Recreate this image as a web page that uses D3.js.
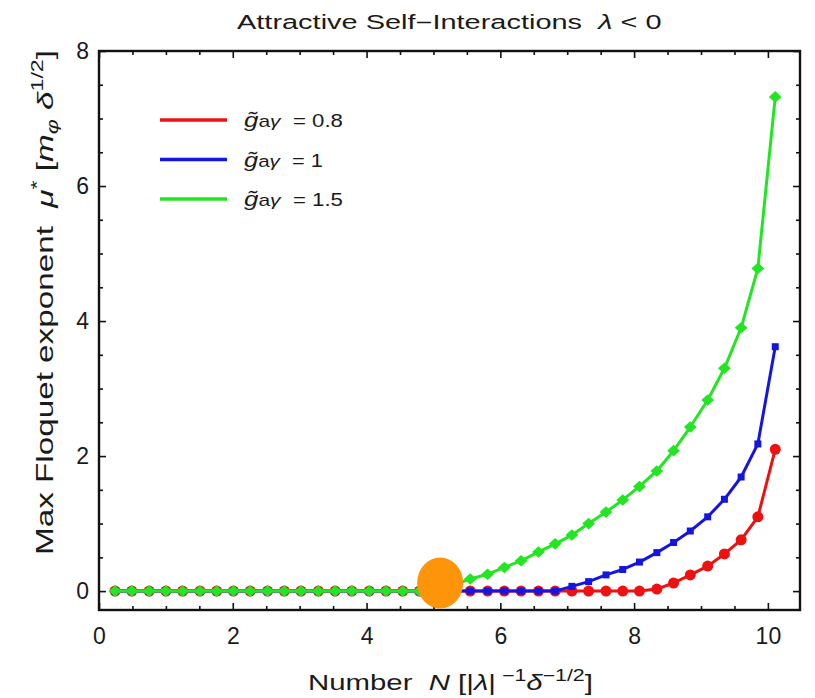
<!DOCTYPE html>
<html>
<head>
<meta charset="utf-8">
<script src="https://cdn.jsdelivr.net/npm/d3@7"></script>
<style>
  html, body { margin: 0; padding: 0; background: #fff; }
  svg text { font-family: "Liberation Sans", Arial, sans-serif; fill: #1a1a1a; white-space: pre; }
</style>
</head>
<body>
<svg id="chart" width="815" height="698"></svg>
<script>
// Particle number N (units of |λ|^-1 δ^-1/2) at which the exponent was computed
const numberN = [0.24, 0.49, 0.75, 1.00, 1.25, 1.51, 1.76, 2.01, 2.26, 2.52,
                 2.77, 3.02, 3.28, 3.53, 3.78, 4.04, 4.29, 4.54, 4.79, 5.05,
                 5.30, 5.55, 5.81, 6.06, 6.31, 6.57, 6.82, 7.07, 7.32, 7.58,
                 7.83, 8.08, 8.34, 8.59, 8.84, 9.10, 9.35, 9.60, 9.85, 10.11];

// Max Floquet exponent μ* for each coupling
const muG08 = [0, 0, 0, 0, 0, 0, 0, 0, 0, 0,
               0, 0, 0, 0, 0, 0, 0, 0, 0, 0,
               0, 0, 0, 0, 0, 0, 0, 0, 0, 0,
               0, 0, 0.03, 0.12, 0.24, 0.37, 0.55, 0.76, 1.10, 2.10];
const muG10 = [0, 0, 0, 0, 0, 0, 0, 0, 0, 0,
               0, 0, 0, 0, 0, 0, 0, 0, 0, 0,
               0, 0, 0, 0, 0, 0, 0, 0.07, 0.14, 0.24,
               0.32, 0.43, 0.57, 0.72, 0.89, 1.10, 1.36, 1.69, 2.18, 3.62];
const muG15 = [0, 0, 0, 0, 0, 0, 0, 0, 0, 0,
               0, 0, 0, 0, 0, 0, 0, 0, 0, 0.03,
               0.09, 0.18, 0.25, 0.35, 0.45, 0.58, 0.70, 0.83, 1.00, 1.17,
               1.35, 1.55, 1.78, 2.08, 2.43, 2.83, 3.30, 3.90, 4.78, 7.32];

const couplingLabels = ["0.8", "1", "1.5"];
const seriesColors = ["#ee1111", "#1515e0", "#22e622"];
const seriesMarkers = ["circle", "square", "diamond"];

// Point where the instability sets in for the strongest coupling
const onsetN = 5.10, onsetMu = 0.12;

const xTickValues = [0, 2, 4, 6, 8, 10];
const yTickValues = [0, 2, 4, 6, 8];

const series = [muG08, muG10, muG15].map((vals, i) => ({
  label: couplingLabels[i],
  color: seriesColors[i],
  marker: seriesMarkers[i],
  points: numberN.map((n, j) => ({ n, mu: vals[j] }))
}));

const svg = d3.select("#chart");
const plotLeft = 99, plotRight = 800, plotTop = 51, plotBottom = 610;

const x = d3.scaleLinear().domain([0, 10.48]).range([plotLeft, plotRight]);
const y = d3.scaleLinear().domain([-0.28, 8]).range([plotBottom, plotTop]);

// Minor ticks every 0.5
const xMinor = d3.range(0.5, 10.5, 0.5).filter(v => v % 2 !== 0);
const yMinor = d3.range(0.5, 8, 0.5).filter(v => v % 2 !== 0);

function styleAxis(g) {
  g.select(".domain").remove();
  g.selectAll(".tick line").attr("stroke", "#111").attr("stroke-width", 1.6);
}
function styleLabels(g) {
  g.selectAll("text").attr("font-size", 23).attr("fill", "#1a1a1a")
    .attr("font-family", "Liberation Sans, Arial, sans-serif");
}

// Bottom axis with labels
svg.append("g").attr("transform", `translate(0,${plotBottom})`)
  .call(d3.axisBottom(x).tickValues(xTickValues).tickSize(-7).tickPadding(18).tickFormat(d3.format("d")))
  .call(styleAxis).call(styleLabels);
svg.append("g").attr("transform", `translate(0,${plotBottom})`)
  .call(d3.axisBottom(x).tickValues(xMinor).tickSize(-4).tickFormat(""))
  .call(styleAxis);

// Top axis (ticks only)
svg.append("g").attr("transform", `translate(0,${plotTop})`)
  .call(d3.axisTop(x).tickValues(xTickValues).tickSize(-7).tickFormat(""))
  .call(styleAxis);
svg.append("g").attr("transform", `translate(0,${plotTop})`)
  .call(d3.axisTop(x).tickValues(xMinor).tickSize(-4).tickFormat(""))
  .call(styleAxis);

// Left axis with labels
svg.append("g").attr("transform", `translate(${plotLeft},0)`)
  .call(d3.axisLeft(y).tickValues(yTickValues).tickSize(-7).tickPadding(10).tickFormat(d3.format("d")))
  .call(styleAxis).call(styleLabels);
svg.append("g").attr("transform", `translate(${plotLeft},0)`)
  .call(d3.axisLeft(y).tickValues(yMinor).tickSize(-4).tickFormat(""))
  .call(styleAxis);

// Right axis (ticks only)
svg.append("g").attr("transform", `translate(${plotRight},0)`)
  .call(d3.axisRight(y).tickValues(yTickValues).tickSize(-7).tickFormat(""))
  .call(styleAxis);
svg.append("g").attr("transform", `translate(${plotRight},0)`)
  .call(d3.axisRight(y).tickValues(yMinor).tickSize(-4).tickFormat(""))
  .call(styleAxis);

// Frame
svg.append("rect")
  .attr("x", plotLeft).attr("y", plotTop)
  .attr("width", plotRight - plotLeft).attr("height", plotBottom - plotTop)
  .attr("fill", "none").attr("stroke", "#111").attr("stroke-width", 2.4);

// Curves
const line = d3.line().x(d => x(d.n)).y(d => y(d.mu));
const plot = svg.append("g");

function drawMarker(g, kind, color) {
  if (kind === "circle") {
    g.append("circle").attr("r", 5.5).attr("fill", color);
  } else if (kind === "square") {
    g.append("rect").attr("x", -3.5).attr("y", -3.5).attr("width", 7).attr("height", 7).attr("fill", color);
  } else {
    g.append("path").attr("d", "M0,-5.8L6.4,0L0,5.8L-6.4,0Z").attr("fill", color);
  }
}

series.forEach(s => {
  const g = plot.append("g");
  g.append("path").datum(s.points)
    .attr("d", line).attr("fill", "none")
    .attr("stroke", s.color).attr("stroke-width", 3).attr("stroke-linejoin", "round");
  g.selectAll("g.pt").data(s.points).join("g")
    .attr("class", "pt")
    .attr("transform", d => `translate(${x(d.n)},${y(d.mu)})`)
    .each(function () { drawMarker(d3.select(this), s.marker, s.color); });
});

// Onset highlight
plot.append("ellipse")
  .attr("cx", x(onsetN)).attr("cy", y(onsetMu))
  .attr("rx", 23).attr("ry", 25.5)
  .attr("fill", "#fd9409");

// Text blocks drawn in a wide face: the block is stretched along its
// writing direction so that it spans the given length.
function wideText(px, py, angle, span, fontSize, build) {
  const g = svg.append("g");
  const t = g.append("text").attr("x", 0).attr("y", 0).attr("font-size", fontSize);
  build(t);
  const w = t.node().getBBox().width;
  const sx = span / w;
  g.attr("transform", `translate(${px},${py}) rotate(${angle}) scale(${sx},1)`);
  return sx;
}

// Legend
series.forEach((s, i) => {
  const ly = 120 + i * 39.5;
  svg.append("line")
    .attr("x1", 160).attr("x2", 227).attr("y1", ly).attr("y2", ly)
    .attr("stroke", s.color).attr("stroke-width", 3.5);
  const span = [99, 79, 99][i];
  wideText(244, ly + 7, 0, span, 18, t => {
    t.append("tspan").attr("font-style", "italic").attr("font-size", 21).text("g\u0303");
    t.append("tspan").attr("font-size", 17).text("a");
    t.append("tspan").attr("font-style", "italic").attr("font-size", 17).text("\u03b3");
    t.append("tspan").text("  = " + s.label);
  });
});

// Title
wideText(237, 28.5, 0, 425, 19.5, t => {
  t.append("tspan").text("Attractive Self\u2212Interactions  ");
  t.append("tspan").attr("font-style", "italic").text("\u03bb");
  t.append("tspan").text(" < 0");
});

// X axis label
wideText(308, 690, 0, 285, 22, t => {
  t.append("tspan").text("Number  ");
  t.append("tspan").attr("font-style", "italic").text("N");
  t.append("tspan").text(" [|");
  t.append("tspan").attr("font-style", "italic").text("\u03bb");
  t.append("tspan").text("|");
  t.append("tspan").attr("font-size", 16).attr("dy", -9).text(" \u22121");
  t.append("tspan").attr("font-style", "italic").attr("dy", 9).text("\u03b4");
  t.append("tspan").attr("font-size", 16).attr("dy", -9).text("\u22121/2");
  t.append("tspan").attr("dy", 9).text("]");
});

// Y axis label
wideText(53, 555, -90, 505, 23, t => {
  t.append("tspan").text("Max Floquet exponent  ");
  t.append("tspan").attr("font-style", "italic").text("\u03bc");
  t.append("tspan").attr("font-size", 16).attr("dy", -10).text("*");
  t.append("tspan").attr("dy", 10).text(" [");
  t.append("tspan").attr("font-style", "italic").text("m");
  t.append("tspan").attr("font-style", "italic").attr("font-size", 16).attr("dy", 5).text("\u03c6");
  t.append("tspan").attr("dy", -5).text(" ");
  t.append("tspan").attr("font-style", "italic").text("\u03b4");
  t.append("tspan").attr("font-size", 16).attr("dy", -10).text("1/2");
  t.append("tspan").attr("dy", 10).text("]");
});
</script>
</body>
</html>
